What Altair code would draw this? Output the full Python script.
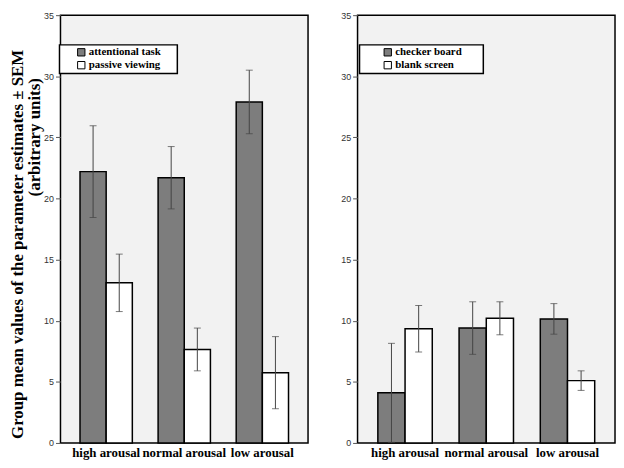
import altair as alt
import pandas as pd

categories = ["high arousal", "normal arousal", "low arousal"]

left_series = ["attentional task", "passive viewing"]
attentional = [22.2, 21.7, 27.9]
attentional_sem = [3.75, 2.55, 2.6]
passive = [13.1, 7.65, 5.75]
passive_sem = [2.35, 1.75, 2.95]

right_series = ["checker board", "blank screen"]
checker = [4.1, 9.4, 10.15]
checker_sem = [4.05, 2.15, 1.25]
blank = [9.35, 10.2, 5.1]
blank_sem = [1.9, 1.35, 0.8]

y_ticks = [0, 5, 10, 15, 20, 25, 30, 35]
y_title_line1 = "Group mean values of the parameter estimates \u00b1 SEM"
y_title_line2 = "(arbitrary units)"

BAR_GRAY = "#7d7d7d"
ERR = "#444444"
H = 432
SERIF = "Liberation Serif"


def make_df(series_names, vals, sems):
    rows = []
    for s, v, e in zip(series_names, vals, sems):
        for c, vv, ee in zip(categories, v, e):
            rows.append(dict(cat=c, series=s, value=vv, lo=vv - ee, hi=vv + ee))
    return pd.DataFrame(rows)


def panel(df, series_names, width, lx, ly, sym_off, pad, ytitle):
    x = alt.X("cat:N", sort=categories,
              scale=alt.Scale(paddingInner=0.33, paddingOuter=0.25),
              axis=alt.Axis(title=None, labelAngle=0, ticks=False, domain=False,
                            labelFont=SERIF, labelFontWeight="bold",
                            labelFontSize=13, labelColor="black", labelPadding=4))
    xo = alt.XOffset("series:N", sort=series_names,
                     scale=alt.Scale(paddingInner=0, paddingOuter=0))
    yaxis = alt.Axis(values=y_ticks, grid=False, domain=False, tickSize=5,
                     tickColor="#555555", labelFont="Liberation Sans", labelFontSize=9,
                     labelColor="#333333", labelPadding=2,
                     titleFont=SERIF, titleFontWeight="bold",
                     titleFontSize=17, titleColor="black", titlePadding=17,
                     titleY=231)
    yscale = alt.Scale(domain=[0, 35], nice=False, zero=True)

    def Y(field):
        if ytitle:
            return alt.Y(field, scale=yscale, axis=yaxis, title=ytitle)
        return alt.Y(field, scale=yscale, axis=yaxis, title=None)

    trail = "\u00a0" * pad + "\u200b"
    bars = alt.Chart(df).mark_bar(stroke="black", strokeWidth=1.5).encode(
        x=x, xOffset=xo, y=Y("value:Q"),
        color=alt.Color("series:N", sort=series_names,
                        scale=alt.Scale(domain=series_names, range=[BAR_GRAY, "#ffffff"]),
                        legend=alt.Legend(title=None, orient="none", legendX=lx, legendY=ly,
                                          fillColor="white", strokeColor="black", padding=2,
                                          symbolType="square", symbolSize=55,
                                          symbolStrokeColor="black", symbolStrokeWidth=1,
                                          symbolOffset=sym_off,
                                          labelFont=SERIF, labelFontWeight="bold",
                                          labelFontSize=11, labelColor="black", labelOffset=2,
                                          rowPadding=0,
                                          labelExpr="datum.label + '" + trail + "'")),
    )
    rules = alt.Chart(df).mark_rule(color=ERR, strokeWidth=1).encode(
        x=x, xOffset=xo, y=Y("lo:Q"), y2="hi:Q")
    cap_hi = alt.Chart(df).mark_tick(color=ERR, size=7, thickness=1).encode(
        x=x, xOffset=xo, y=Y("hi:Q"))
    cap_lo = alt.Chart(df).mark_tick(color=ERR, size=7, thickness=1).encode(
        x=x, xOffset=xo, y=Y("lo:Q"))
    layers = [bars, rules, cap_hi, cap_lo]
    if ytitle:
        t2 = alt.Chart(pd.DataFrame({"t": [y_title_line2]})).mark_text(
            angle=270, font=SERIF, fontWeight="bold", fontSize=17,
            color="black", align="left", baseline="middle").encode(
            x=alt.value(-26), y=alt.value(183), text="t:N")
        layers.append(t2)
    return alt.layer(*layers).properties(width=width, height=H)


left = panel(make_df(left_series, [attentional, passive], [attentional_sem, passive_sem]),
             left_series, 250, -1, 30, 14.5, 5, y_title_line1)
right = panel(make_df(right_series, [checker, blank], [checker_sem, blank_sem]),
              right_series, 260, 2, 30, 21, 7, None)

chart = alt.hconcat(left, right, spacing=50, bounds="flush").resolve_scale(
    color="independent", x="independent", y="independent", xOffset="independent"
).resolve_legend(color="independent").properties(
    padding={"left": 0, "top": 0, "right": 0, "bottom": 0}
).configure_view(
    stroke="black", strokeWidth=1.5, fill="#f2f2f2"
).configure_legend(strokeWidth=1.5)

chart.save("out.html", embed_options={"renderer": "svg", "actions": False})
